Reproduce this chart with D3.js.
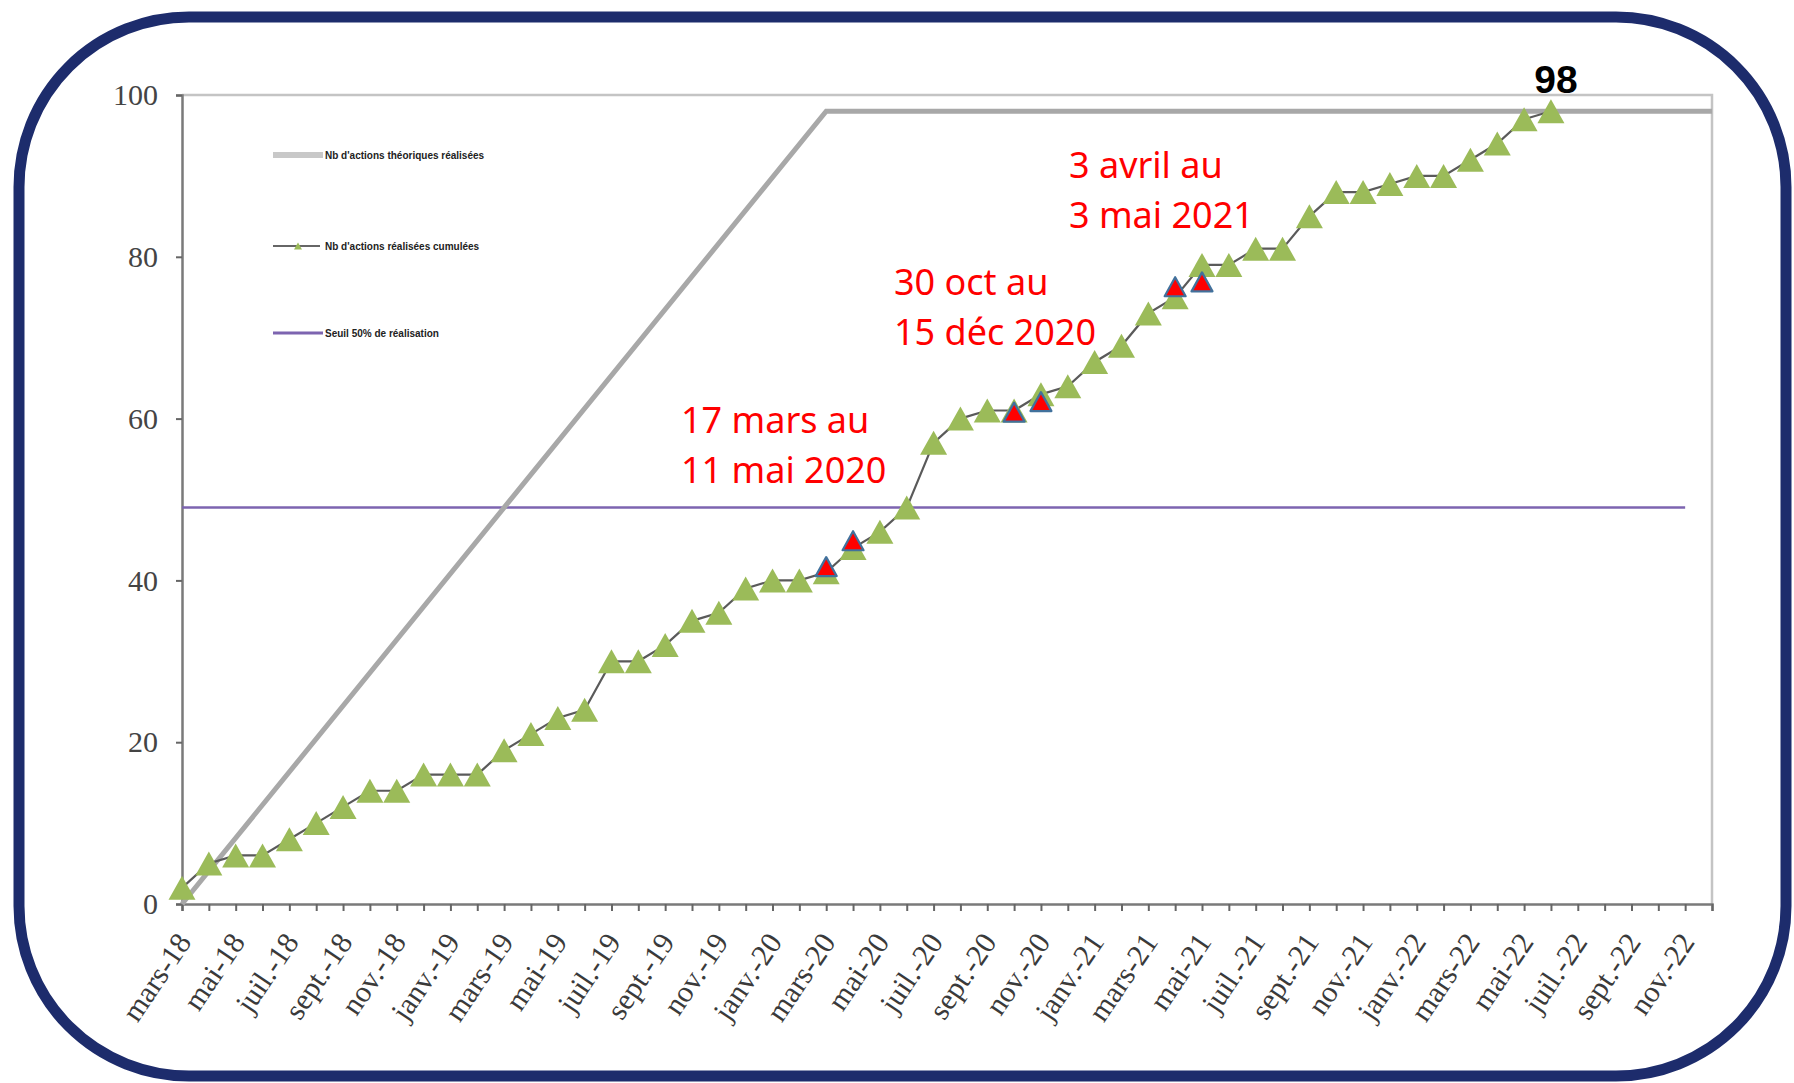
<!DOCTYPE html>
<html>
<head>
<meta charset="utf-8">
<script src="https://cdn.jsdelivr.net/npm/d3@7"></script>
<style>
  body { margin: 0; background: #fff; }
  svg { display: block; }
</style>
</head>
<body>
<svg id="chart" width="1794" height="1083"></svg>
<script>
// months on the x axis (one tick per month)
const months = [
  "mars-18","avr.-18","mai-18","juin-18","juil.-18","août-18","sept.-18","oct.-18","nov.-18","déc.-18",
  "janv.-19","févr.-19","mars-19","avr.-19","mai-19","juin-19","juil.-19","août-19","sept.-19","oct.-19","nov.-19","déc.-19",
  "janv.-20","févr.-20","mars-20","avr.-20","mai-20","juin-20","juil.-20","août-20","sept.-20","oct.-20","nov.-20","déc.-20",
  "janv.-21","févr.-21","mars-21","avr.-21","mai-21","juin-21","juil.-21","août-21","sept.-21","oct.-21","nov.-21","déc.-21",
  "janv.-22","févr.-22","mars-22","avr.-22","mai-22","juin-22","juil.-22","août-22","sept.-22","oct.-22","nov.-22","déc.-22"
];
const yTicks = [0, 20, 40, 60, 80, 100];

// cumulated actions done, monthly from mars-18
const realisees = [2,5,6,6,8,10,12,14,14,16,16,16,19,21,23,24,30,30,32,35,36,39,40,40,
  41,44,46,49,57,60,61,61,63,64,67,69,73,75,79,79,81,81,85,88,88,89,90,90,92,94,97,98];

// theoretical line
const theoMonths = ["mars-18", "mars-20", "déc.-22"];
const theoValues = [0, 98, 98];

// 50% threshold
const seuilMonths = ["mars-18", "nov.-22"];
const seuilValue = 49;

// lockdown markers
const confMonths = ["mars-20","avr.-20","oct.-20","nov.-20","avr.-21","mai-21"];
const confValues = [41.7, 44.9, 60.8, 62.1, 76.3, 76.9];

const annotations = [
  { lines: ["17 mars au", "11 mai 2020"], x: 681, y: 433 },
  { lines: ["30 oct au", "15 déc 2020"], x: 894, y: 295 },
  { lines: ["3 avril au", "3 mai 2021"], x: 1069, y: 178 }
];

const legendItems = [
  "Nb d'actions théoriques réalisées",
  "Nb d'actions réalisées cumulées",
  "Seuil 50% de réalisation"
];

const svg = d3.select("#chart");
const plotLeft = 182, plotRight = 1712, plotTop = 95, plotBottom = 904;

const x = d3.scalePoint().domain(months).range([plotLeft, plotRight]);
const y = d3.scaleLinear().domain([0, 100]).range([plotBottom, plotTop]);

// outer frame
svg.append("rect")
  .attr("x", 19).attr("y", 17)
  .attr("width", 1767).attr("height", 1059)
  .attr("rx", 170).attr("ry", 170)
  .attr("fill", "#fff")
  .attr("stroke", "#1d2c6c")
  .attr("stroke-width", 11);

// plot border (top and right)
svg.append("path")
  .attr("d", `M${plotLeft},${plotTop}H${plotRight}V${plotBottom}`)
  .attr("fill", "none")
  .attr("stroke", "#c4c4c4")
  .attr("stroke-width", 2.5);

// axes
const yAxis = svg.append("g")
  .attr("transform", `translate(${plotLeft},0)`)
  .call(d3.axisLeft(y).tickValues(yTicks).tickSize(6).tickPadding(18));
yAxis.selectAll("text")
  .attr("font-family", "Liberation Serif, serif")
  .attr("font-size", 30)
  .attr("fill", "#444");

const xAxis = svg.append("g")
  .attr("transform", `translate(0,${plotBottom})`)
  .call(d3.axisBottom(x).tickSize(7).tickFormat((d, i) => i % 2 === 0 && i < 57 ? d : ""));
xAxis.selectAll("text")
  .attr("x", 0).attr("y", 0).attr("dy", 0)
  .attr("transform", "translate(10,38) rotate(-56)")
  .attr("text-anchor", "end")
  .attr("font-family", "Liberation Serif, serif")
  .attr("font-size", 30)
  .attr("fill", "#3a3a3a");

[yAxis, xAxis].forEach(g => {
  g.select(".domain").attr("stroke", "#7a7a7a").attr("stroke-width", 2.5);
  g.selectAll(".tick line").attr("stroke", "#666").attr("stroke-width", 2);
});

// threshold line
svg.append("path")
  .datum(seuilMonths)
  .attr("d", d3.line().x(d => x(d)).y(() => y(seuilValue)))
  .attr("fill", "none")
  .attr("stroke", "#7d64b0")
  .attr("stroke-width", 2.5);

// theoretical line
svg.append("path")
  .datum(theoMonths.map((m, i) => [m, theoValues[i]]))
  .attr("d", d3.line().x(d => x(d[0])).y(d => y(d[1])))
  .attr("fill", "none")
  .attr("stroke", "#a8a8a8")
  .attr("stroke-width", 5);

// realised line + triangles
const pts = realisees.map((v, i) => [months[i], v]);
svg.append("path")
  .datum(pts)
  .attr("d", d3.line().x(d => x(d[0])).y(d => y(d[1])))
  .attr("fill", "none")
  .attr("stroke", "#5a5a5a")
  .attr("stroke-width", 2.2);

const tri = (w, h) => `M0,${-h / 2}L${w / 2},${h / 2}L${-w / 2},${h / 2}Z`;

svg.append("g").selectAll("path")
  .data(pts)
  .join("path")
  .attr("transform", d => `translate(${x(d[0])},${y(d[1])})`)
  .attr("d", tri(27, 24))
  .attr("fill", "#9bbb59");

svg.append("g").selectAll("path")
  .data(confMonths.map((m, i) => [m, confValues[i]]))
  .join("path")
  .attr("transform", d => `translate(${x(d[0])},${y(d[1])})`)
  .attr("d", tri(21, 19))
  .attr("fill", "#ff0000")
  .attr("stroke", "#41719c")
  .attr("stroke-width", 2.2)
  .attr("stroke-linejoin", "round");

// legend
const lg = svg.append("g").attr("font-family", "Liberation Sans, sans-serif").attr("font-size", 10).attr("fill", "#222");
const legendY = [155, 246, 333];
lg.append("line").attr("x1", 273).attr("x2", 323).attr("y1", legendY[0]).attr("y2", legendY[0])
  .attr("stroke", "#c8c8c8").attr("stroke-width", 6);
lg.append("line").attr("x1", 273).attr("x2", 320).attr("y1", legendY[1]).attr("y2", legendY[1])
  .attr("stroke", "#666").attr("stroke-width", 2);
lg.append("path").attr("transform", `translate(298,${legendY[1]})`).attr("d", tri(8, 7)).attr("fill", "#9bbb59");
lg.append("line").attr("x1", 273).attr("x2", 323).attr("y1", legendY[2]).attr("y2", legendY[2])
  .attr("stroke", "#7d64b0").attr("stroke-width", 3);
legendItems.forEach((t, i) => {
  lg.append("text").attr("x", 325).attr("y", legendY[i]).attr("dy", "0.35em")
    .attr("font-weight", "bold").text(t);
});

// red annotations
annotations.forEach(a => {
  const t = svg.append("text")
    .attr("font-family", "Noto Sans, sans-serif")
    .attr("font-size", 36)
    .attr("fill", "#ff0000");
  a.lines.forEach((l, i) => {
    t.append("tspan").attr("x", a.x).attr("y", a.y + i * 50).text(l);
  });
});

// final value label
const last = pts[pts.length - 1];
svg.append("text")
  .attr("x", x(last[0]) + 5)
  .attr("y", 93)
  .attr("text-anchor", "middle")
  .attr("font-family", "Liberation Sans, Arial, sans-serif")
  .attr("font-weight", "bold")
  .attr("font-size", 39)
  .attr("fill", "#000")
  .text(last[1]);
</script>
</body>
</html>
